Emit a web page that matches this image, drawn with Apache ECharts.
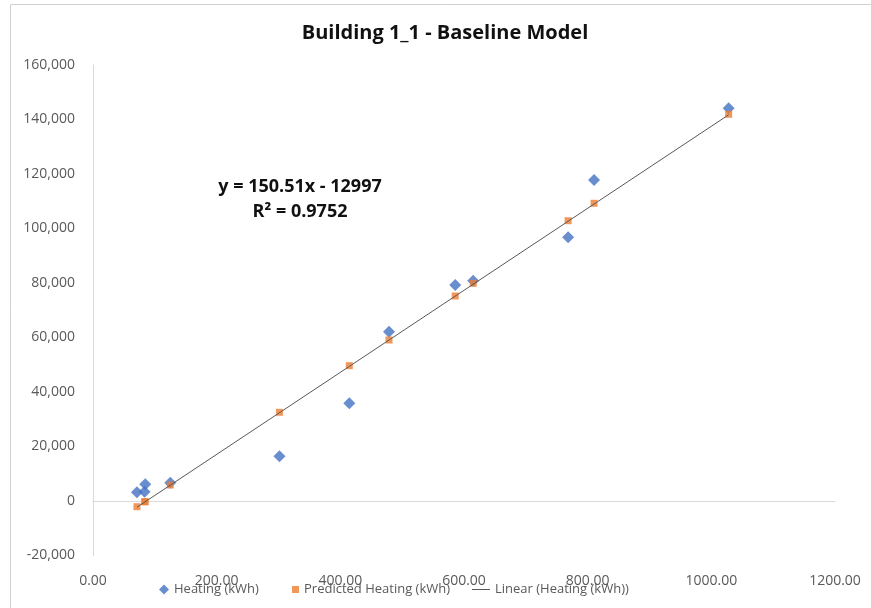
<!DOCTYPE html>
<html>
<head>
<meta charset="utf-8">
<script src="https://cdn.jsdelivr.net/npm/echarts@6/dist/echarts.min.js"></script>
<style>
  html, body { margin: 0; padding: 0; background: #fff; }
  #chart { width: 871px; height: 608px; }
</style>
</head>
<body>
<div id="chart"></div>
<script>
// values
const heatingX = [71.1, 84.5, 83.4, 124.9, 301.5, 414.5, 478.7, 585.8, 614.9, 768.4, 810.3, 1028];
const heatingY = [3190, 6130, 3410, 6720, 16400, 35850, 62130, 79270, 80840, 96780, 117800, 144110];
const predictedY = [-2090, -260, -260, 5870, 32550, 49650, 59080, 75230, 79890, 102860, 109250, 141910];
const trendX = [71.1, 1028];
const trendY = [-2296, 141726];
const xTicks = { min: 0, max: 1200, interval: 200 };
const yTicks = { min: -20000, max: 160000, interval: 20000 };

const font = 'Open Sans';
const heating = heatingX.map((x, i) => [x, heatingY[i]]);
const predicted = heatingX.map((x, i) => [x, predictedY[i]]);
const trend = trendX.map((x, i) => [x, trendY[i]]);

const chart = echarts.init(document.getElementById('chart'));

const legendBase = {
  top: 578,
  textStyle: { color: '#595959', fontSize: 13, fontFamily: font },
  selectedMode: false
};

chart.setOption({
  animation: false,
  backgroundColor: '#fff',
  title: {
    text: 'Building 1_1 - Baseline Model',
    left: 440,
    top: 18,
    textAlign: 'center',
    textStyle: { fontSize: 20, fontWeight: 'bold', color: '#111', fontFamily: font }
  },
  graphic: [
    {
      type: 'rect',
      silent: true,
      shape: { x: 10.5, y: 4.5, width: 900, height: 700 },
      style: { fill: 'none', stroke: '#d0d0d0', lineWidth: 1 }
    },
    {
      type: 'text',
      x: 300,
      y: 199,
      style: {
        text: 'y = 150.51x - 12997\nR² = 0.9752',
        align: 'center',
        verticalAlign: 'middle',
        lineHeight: 25,
        font: 'bold 18px "Open Sans"',
        fill: '#111'
      }
    }
  ],
  legend: [
    Object.assign({}, legendBase, {
      left: 154, data: ['Heating (kWh)'], icon: 'diamond', itemWidth: 10, itemHeight: 10
    }),
    Object.assign({}, legendBase, {
      left: 287, data: ['Predicted Heating (kWh)'], icon: 'rect', itemWidth: 7, itemHeight: 7
    }),
    Object.assign({}, legendBase, {
      left: 467, data: ['Linear (Heating (kWh))'], icon: 'rect', itemWidth: 18, itemHeight: 1
    })
  ],
  grid: { left: 93, right: 36, top: 65, bottom: 52.5, containLabel: false },
  xAxis: {
    type: 'value',
    min: xTicks.min,
    max: xTicks.max,
    interval: xTicks.interval,
    axisLine: { lineStyle: { color: '#d9d9d9' } },
    axisTick: { show: false },
    splitLine: { show: false },
    axisLabel: {
      margin: 19,
      color: '#595959',
      fontSize: 14,
      fontFamily: font,
      formatter: v => v.toFixed(2)
    }
  },
  yAxis: {
    type: 'value',
    min: yTicks.min,
    max: yTicks.max,
    interval: yTicks.interval,
    axisLine: { show: true, lineStyle: { color: '#d9d9d9' } },
    axisTick: { show: false },
    splitLine: { show: false },
    axisLabel: {
      margin: 18,
      color: '#595959',
      fontSize: 14,
      fontFamily: font,
      formatter: v => v.toLocaleString('en-US')
    }
  },
  series: [
    {
      name: 'Heating (kWh)',
      type: 'scatter',
      symbol: 'diamond',
      symbolSize: 12,
      itemStyle: { color: '#4472C4' },
      data: heating
    },
    {
      name: 'Predicted Heating (kWh)',
      type: 'scatter',
      symbol: 'rect',
      symbolSize: 7,
      itemStyle: { color: '#ED7D31' },
      data: predicted
    },
    {
      name: 'Linear (Heating (kWh))',
      type: 'line',
      symbol: 'none',
      lineStyle: { color: '#595959', width: 1 },
      itemStyle: { color: '#595959' },
      data: trend
    }
  ]
});

window.addEventListener('resize', () => chart.resize());
</script>
</body>
</html>
